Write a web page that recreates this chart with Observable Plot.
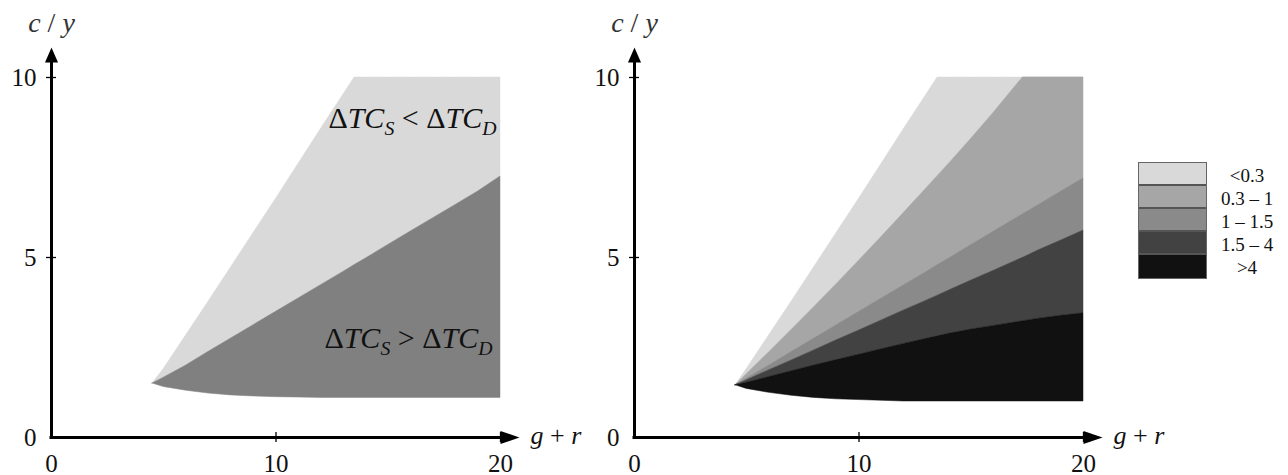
<!DOCTYPE html>
<html>
<head>
<meta charset="utf-8">
<script src="https://cdn.jsdelivr.net/npm/d3@7"></script>
<script src="https://cdn.jsdelivr.net/npm/@observablehq/plot@0.6"></script>
<style>
  html, body { margin: 0; padding: 0; background: #fff; }
  #wrap { position: relative; width: 1288px; height: 475px; overflow: hidden; font-family: "Liberation Serif", "DejaVu Serif", serif; }
  #wrap svg { position: absolute; top: 0; }
  #legend { position: absolute; left: 1138px; top: 162px; }
  #legend .box { border: 1.5px solid #666; width: 67px; }
  #legend .cell { height: 21px; border-bottom: 2px solid #555; }
  #legend .cell:last-child { border-bottom: none; height: 23px; }
  #legend .labels { position: absolute; left: 62px; top: 2px; width: 94px; text-align: center; font-size: 19px; color: #111; }
  #legend .labels div { height: 23px; line-height: 23px; }
</style>
</head>
<body>
<div id="wrap"><div id="legend"></div></div>
<script>
// ---------- data ----------
const xTicks = [0, 10, 20];
const yTicks = [0, 5, 10];
const xLabel = "g + r";
const yLabel = "c / y";

// common g+r grid at which the boundaries were read
const gGrid = [4.5, 5, 6, 7, 8, 9, 10, 11, 12, 13, 13.5, 14, 15, 16, 17, 17.3, 18, 19, 20];

// left panel boundaries (c / y)
const leftUpper = [1.5, 1.9, 2.84, 3.78, 4.73, 5.68, 6.63, 7.6, 8.57, 9.52, 10, 10, 10, 10, 10, 10, 10, 10, 10];
const leftMid   = [1.5, 1.66, 2.0, 2.38, 2.75, 3.12, 3.49, 3.86, 4.23, 4.6, 4.79, 4.97, 5.35, 5.72, 6.09, 6.2, 6.46, 6.83, 7.25];
const leftLower = [1.5, 1.4, 1.3, 1.22, 1.17, 1.14, 1.12, 1.11, 1.1, 1.1, 1.1, 1.1, 1.1, 1.1, 1.1, 1.1, 1.1, 1.1, 1.1];
const leftBands = ["ΔTC_S < ΔTC_D", "ΔTC_S > ΔTC_D"];
const leftColors = ["#d9d9d9", "#808080"];

// right panel boundaries (c / y), top to bottom
const boundA = [1.45, 1.9, 2.84, 3.78, 4.73, 5.68, 6.63, 7.6, 8.57, 9.52, 10, 10, 10, 10, 10, 10, 10, 10, 10];
const boundB = [1.45, 1.76, 2.37, 2.99, 3.62, 4.26, 4.91, 5.57, 6.24, 6.92, 7.26, 7.6, 8.3, 9.02, 9.78, 10, 10, 10, 10];
const boundC = [1.45, 1.64, 2.0, 2.38, 2.75, 3.12, 3.49, 3.86, 4.23, 4.6, 4.79, 4.97, 5.35, 5.72, 6.09, 6.2, 6.46, 6.83, 7.2];
const boundD = [1.45, 1.59, 1.87, 2.14, 2.42, 2.7, 2.97, 3.25, 3.53, 3.8, 3.94, 4.08, 4.36, 4.63, 4.91, 4.99, 5.2, 5.47, 5.75];
const boundE = [1.45, 1.52, 1.68, 1.84, 2.0, 2.15, 2.3, 2.45, 2.6, 2.74, 2.81, 2.88, 3.0, 3.1, 3.2, 3.23, 3.3, 3.38, 3.45];
const lowerRight = [1.45, 1.35, 1.24, 1.16, 1.1, 1.06, 1.04, 1.02, 1.0, 1.0, 1.0, 1.0, 1.0, 1.0, 1.0, 1.0, 1.0, 1.0, 1.0];
const rightBands = ["<0.3", "0.3 – 1", "1 – 1.5", "1.5 – 4", ">4"];
const rightColors = ["#d9d9d9", "#a6a6a6", "#8a8a8a", "#424242", "#111111"];

// ---------- tables ----------
function bandRows(labels, bounds) {
  const rows = [];
  labels.forEach((band, k) => {
    gGrid.forEach((g, i) => rows.push({band, g, y1: bounds[k + 1][i], y2: bounds[k][i]}));
  });
  return rows;
}
const leftRows = bandRows(leftBands, [leftUpper, leftMid, leftLower]);
const rightRows = bandRows(rightBands, [boundA, boundB, boundC, boundD, boundE, lowerRight]);

// ---------- shared decorations ----------
const serif = "Liberation Serif";
const arrowUp = {draw(ctx) { ctx.moveTo(-6.5, 0); ctx.lineTo(6.5, 0); ctx.lineTo(0, -15); ctx.closePath(); }};
const arrowRight = {draw(ctx) { ctx.moveTo(0, -6.5); ctx.lineTo(0, 6.5); ctx.lineTo(19, 0); ctx.closePath(); }};

function axisMarks() {
  return [
    Plot.ruleY([0], {x1: 0, x2: 20, insetLeft: -1.5, stroke: "#000", strokeWidth: 3}),
    Plot.ruleX([0], {y1: 10, y2: 0, insetTop: -15, insetBottom: -1.5, stroke: "#000", strokeWidth: 3}),
    Plot.ruleX(xTicks.slice(1), {x: d => d, y1: 0, y2: 0, insetTop: -5, insetBottom: -5, stroke: "#000", strokeWidth: 1.3}),
    Plot.ruleY(yTicks.slice(1), {y: d => d, x1: 0, x2: 0, insetLeft: -5, insetRight: -5, stroke: "#000", strokeWidth: 1.3}),
    Plot.dot([10], {x: 0, y: d => d, dy: -15, symbol: arrowUp, fill: "#000", stroke: "none"}),
    Plot.dot([20], {x: d => d, y: 0, symbol: arrowRight, fill: "#000", stroke: "none"}),
    Plot.text(xTicks, {x: d => d, y: 0, dy: 26, text: d => String(d), fontSize: 25, fontFamily: serif, fill: "#111"}),
    Plot.text(yTicks, {x: 0, y: d => d, dx: -15, textAnchor: "end", text: d => String(d), fontSize: 25, fontFamily: serif, fill: "#111"}),
    Plot.text([yLabel], {frameAnchor: "top-left", dy: -54, textAnchor: "middle", lineAnchor: "middle", text: d => d, fontSize: 28, fontFamily: serif, fill: "#333", className: "math"}),
    Plot.text([xLabel], {frameAnchor: "bottom-right", dx: 30, dy: -2, textAnchor: "start", lineAnchor: "middle", text: d => d, fontSize: 26, fontFamily: serif, fill: "#111", className: "math"})
  ];
}

// ---------- left panel ----------
const left = Plot.plot({
  width: 583, height: 475,
  marginLeft: 51, marginRight: 83, marginTop: 77, marginBottom: 38,
  x: {domain: [0, 20], axis: null},
  y: {domain: [0, 10], axis: null},
  color: {domain: leftBands, range: leftColors},
  style: {background: "transparent", overflow: "visible"},
  marks: [
    Plot.areaY(leftRows, {x: "g", y1: "y1", y2: "y2", z: "band", fill: "band", stroke: "band", strokeWidth: 0.5, curve: "linear"}),
    Plot.text([leftBands[0]], {frameAnchor: "top-right", dx: -4, dy: 41, textAnchor: "end", lineAnchor: "middle", text: d => d, fontSize: 30, fontFamily: serif, fill: "#111", className: "math"}),
    Plot.text([leftBands[1]], {frameAnchor: "bottom-right", dx: -8, dy: -99, textAnchor: "end", lineAnchor: "middle", text: d => d, fontSize: 30, fontFamily: serif, fill: "#111", className: "math"}),
    ...axisMarks()
  ]
});
left.style.left = "0px";

// ---------- right panel ----------
const right = Plot.plot({
  width: 705, height: 475,
  marginLeft: 51, marginRight: 205, marginTop: 77, marginBottom: 38,
  x: {domain: [0, 20], axis: null},
  y: {domain: [0, 10], axis: null},
  color: {domain: rightBands, range: rightColors},
  style: {background: "transparent", overflow: "visible"},
  marks: [
    Plot.areaY(rightRows, {x: "g", y1: "y1", y2: "y2", z: "band", fill: "band", stroke: "band", strokeWidth: 0.5, curve: "linear"}),
    ...axisMarks()
  ]
});
right.style.left = "583px";

// math-style text: letters italic, subscripts after "_"
function mathify(svg) {
  d3.select(svg).selectAll("g.math text").each(function() {
    const txt = this.textContent;
    const el = d3.select(this);
    el.text(null);
    const re = /(_[A-Za-z])|([A-Za-z]+)|([^A-Za-z_]+)/g;
    let m, shifted = false;
    while ((m = re.exec(txt))) {
      const ts = el.append("tspan");
      if (m[1]) {
        ts.attr("font-style", "italic").attr("font-size", "66%").attr("dy", "7px").text(m[1].slice(1));
        shifted = true;
      } else {
        if (shifted) { ts.attr("dy", "-7px"); shifted = false; }
        ts.attr("font-style", m[2] ? "italic" : "normal").text(m[0]);
      }
    }
  });
}

const wrap = document.getElementById("wrap");
wrap.appendChild(left);
wrap.appendChild(right);
mathify(left);
mathify(right);

// ---------- legend ----------
const legend = d3.select("#legend");
const box = legend.append("div").attr("class", "box");
rightBands.forEach((b, i) => box.append("div").attr("class", "cell").style("background", rightColors[i]));
const labs = legend.append("div").attr("class", "labels");
rightBands.forEach(b => labs.append("div").text(b));
</script>
</body>
</html>
